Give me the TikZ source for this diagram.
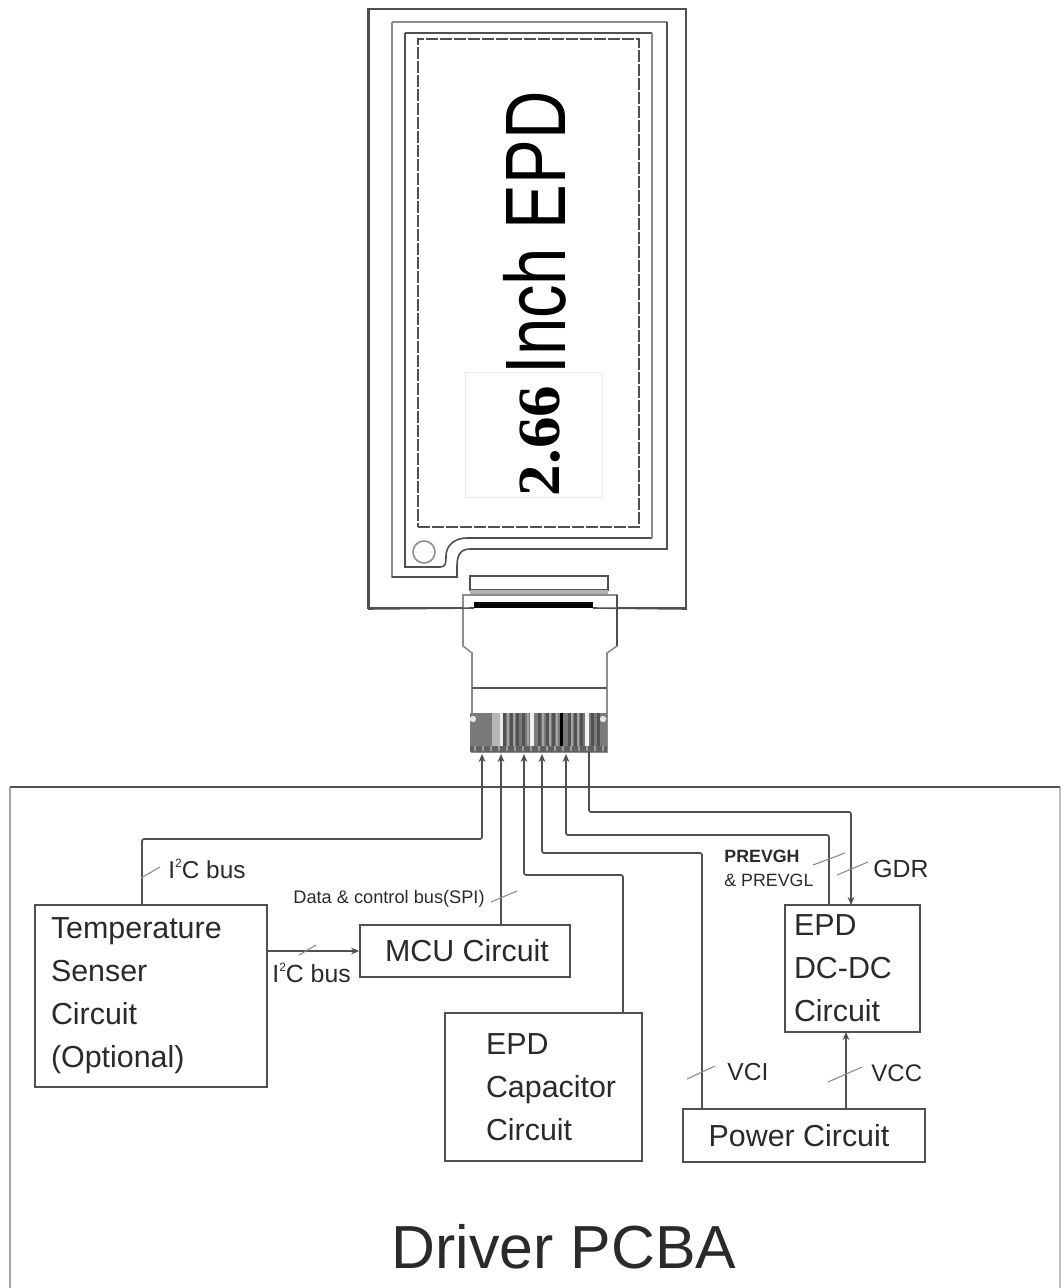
\documentclass[tikz,border=0pt]{standalone}
\usepackage{fontspec}
\setmainfont{Liberation Sans}
\newfontfamily\serifbold{Liberation Serif}
\usetikzlibrary{arrows.meta}
\definecolor{ink}{HTML}{2A2A2A}
\definecolor{wirec}{HTML}{505050}
\definecolor{softc}{HTML}{8C8C8C}
\newcommand{\isq}{I\raisebox{0.42em}{\fontsize{6}{6}\selectfont 2}C}
\tikzset{
  wire/.style={draw=wirec,line width=0.85pt,rounded corners=1pt},
  arrowed/.style={wire,-{Stealth[length=4pt,width=3.4pt]}},
  tick/.style={draw=softc,line width=0.55pt},
  blockbox/.style={draw=wirec,line width=0.9pt,fill=white,text=ink,align=left,font=\fontsize{15.2}{21.5}\selectfont,inner sep=0pt},
  lab/.style={text=ink,anchor=base west,inner sep=0pt},
  contour/.style={draw=softc,line width=1.1pt},
  contourb/.style={draw=wirec,line width=0.8pt},
}
\begin{document}
\begin{tikzpicture}[x=0.5pt,y=-0.5pt]
\useasboundingbox (0,0) rectangle (1061,1288);
% Display panel
\node[draw=wirec,line width=1pt,minimum width=158.5pt,minimum height=299.5pt,inner sep=0pt] (panel) at (527.5,308.5) {};
\draw[draw=wirec,line width=1.4pt] (panel.north west) -- (panel.south west);
\draw[contour] (392,22) -- (667,22);
\draw[contour] (392,22) -- (392,577) -- (457,577);
\draw[contourb] (392,577) -- (457,577) -- (457,566) .. controls (457,556) and (460,549) .. (470,549) -- (667,549) -- (667,22);
\draw[contourb] (405,33) -- (652,33);
\draw[contourb] (405,33) -- (405,567) -- (440,567) .. controls (446,567) and (446,563) .. (446,556) .. controls (446,545) and (455,538) .. (467,538) -- (652,538);
\draw[contour] (652,33) -- (652,538);
\node[draw=wirec,line width=0.8pt,dash pattern=on 6pt off 1pt,minimum width=110.5pt,minimum height=244pt,inner sep=0pt] (active) at (528.5,283) {};
\node[draw=softc,circle,line width=0.8pt,minimum size=11pt,inner sep=0pt] (hole) at (424,552) {};
\node[draw=black!8,line width=0.4pt,minimum width=68.5pt,minimum height=62.5pt,inner sep=0pt] (faint) at (533.5,434.5) {};
\node[rotate=90,anchor=base,inner sep=0pt,text=black] (size) at (559,441) {\scalebox{1}[0.95]{\fontsize{31.5}{31.5}\serifbold\bfseries 2.66}};
\node[rotate=90,anchor=base,inner sep=0pt,text=black] (title) at (565,233) {\scalebox{1}[1.28]{\fontsize{33.5}{33.5}\selectfont Inch EPD}};
% Flexible cable
\draw[contourb,fill=white] (470,576) rectangle (608,590);
\fill[black!30] (470,590) rectangle (608,595);
\draw[draw=softc,line width=0.8pt,fill=white] (617,595) -- (463,595) -- (463,646) -- (472,653) -- (472,752) -- (607,752) -- (607,653) -- (617,646) -- cycle;
\draw[draw=wirec,line width=0.8pt] (617,595) -- (617,646);
\draw[contourb] (panel.south west) -- (474,608);
\draw[contourb] (593,608) -- (panel.south east);
\fill[black] (474,602) rectangle (593,608);
\draw[draw=black!65,line width=0.8pt] (472,688) -- (607,688);
% Contact fingers
\fill[black!52] (470,713) rectangle (607,746);
\fill[black!28] (492,713) rectangle (500,746);
\fill[black!8] (500,713) rectangle (503,746);
\foreach \sx in {503,510,516,522,538,546,552,568,574,580,591,597}{\fill[black!68] (\sx,713) rectangle (\sx+2.5,746);}
\foreach \sx in {507,513,527,542,549,556,571,577}{\fill[black!36] (\sx,713) rectangle (\sx+2,746);}
\fill[black!5] (530,713) rectangle (534,746);
\fill[black] (560,713) rectangle (563,746);
\fill[black!5] (585,713) rectangle (589,746);
\fill[black!62] (470,746) rectangle (607,752);
\foreach \sx in {474,482,490,498,506,514,522,530,538,546,554,562,570,578,586,594,602}{\fill[black!38] (\sx,746) rectangle (\sx+2,751);}
\fill[black!10] (473,719) circle (1.6pt);
\fill[black!10] (603,719) circle (1.6pt);
% Driver board outline
\coordinate (bl) at (10,1288);
\coordinate (tl) at (10,787);
\coordinate (tr) at (1060,787);
\coordinate (br) at (1060,1288);
\draw[draw=black!35,line width=1pt] (bl) -- (tl);
\draw[draw=black!25,line width=1pt] (tr) -- (br);
\draw[draw=wirec,line width=0.9pt] (tl) -- (tr);
% Blocks
\node[blockbox,minimum width=116pt,minimum height=91pt,text width=100pt] (temp) at (151,996) {Temperature\\Senser\\Circuit\\(Optional)};
\node[blockbox,minimum width=105pt,minimum height=26pt,align=center] (mcu) at (465,951) {\hspace*{2pt}MCU Circuit};
\node[blockbox,minimum width=98.5pt,minimum height=74pt,text width=77.5pt] (cap) at (543.5,1087) {\hspace*{10pt}EPD\\\hspace*{10pt}Capacitor\\\hspace*{10pt}Circuit};
\node[blockbox,minimum width=121pt,minimum height=26.5pt,align=center] (power) at (804,1135.5) {\hspace*{-5pt}Power Circuit};
\node[blockbox,minimum width=67.5pt,minimum height=63.5pt,text width=58.5pt] (dcdc) at (852.5,968.5) {EPD\\DC-DC\\Circuit};
% Pins
\coordinate (p1) at (482,754);
\coordinate (p2) at (501,754);
\coordinate (p3) at (524,754);
\coordinate (p4) at (542,754);
\coordinate (p5) at (566,754);
\coordinate (p6) at (589,752);
\coordinate (t1) at (142,905);
\coordinate (t2) at (267,951);
\coordinate (m1) at (501,925);
\coordinate (c1) at (623,1013);
\coordinate (w1) at (702,1109);
\coordinate (w2) at (846,1109);
\coordinate (w3) at (846,1032);
\coordinate (d1) at (829,905);
\coordinate (d2) at (851,905);
% Connectors
\draw[arrowed] (t1) -- (142,839) -| (p1);
\draw[arrowed] (m1) -- (p2);
\draw[arrowed] (c1) -- (623,875) -| (p3);
\draw[arrowed] (w1) -- (702,853) -| (p4);
\draw[arrowed] (d1) -- (829,835) -| (p5);
\draw[arrowed] (p6) |- (851,812) -- (d2);
\draw[arrowed] (t2) -- (mcu.west);
\draw[arrowed] (w2) -- (w3);
% Bus ticks
\draw[tick] (141,878) -- (160,867);
\draw[tick] (491,902) -- (517,891);
\draw[tick] (299,955) -- (316,945);
\draw[tick] (813,865) -- (845,853);
\draw[tick] (837,875) -- (868,862);
\draw[tick] (687,1079) -- (715,1066);
\draw[tick] (828,1082) -- (862,1067);
% Labels
\node[lab,font=\fontsize{12.2}{13}\selectfont] (l1) at (168,878) {\isq{} bus};
\node[lab,font=\fontsize{12.4}{13}\selectfont] (l2) at (272,982) {\isq{} bus};
\node[lab,font=\fontsize{9.1}{10}\selectfont] (l3) at (293,903) {Data \& control bus(SPI)};
\node[lab,font=\fontsize{8.9}{10}\selectfont\bfseries] (l4) at (724,862) {PREVGH};
\node[lab,font=\fontsize{8.9}{10}\selectfont] (l5) at (724,886) {\& PREVGL};
\node[lab,font=\fontsize{12.4}{13}\selectfont] (l6) at (873,877) {GDR};
\node[lab,font=\fontsize{12.3}{13}\selectfont] (l7) at (727,1080) {VCI};
\node[lab,font=\fontsize{12}{13}\selectfont] (l8) at (871,1081) {VCC};
\node[anchor=base,inner sep=0pt,text=ink,font=\fontsize{30.4}{31}\selectfont] (driver) at (564,1268) {Driver PCBA};
\end{tikzpicture}
\end{document}
